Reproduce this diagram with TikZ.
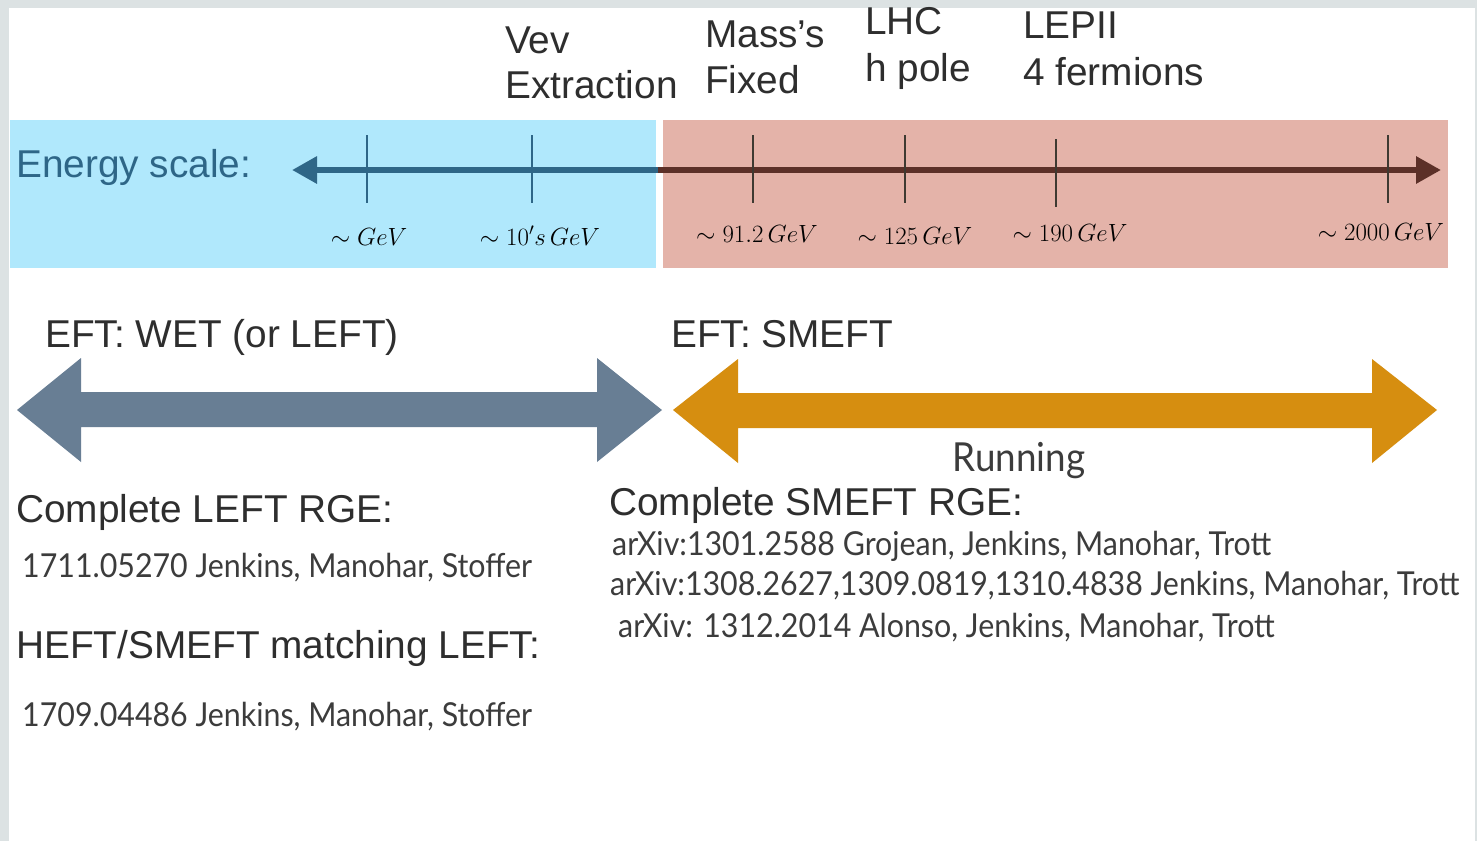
\documentclass[tikz,border=0pt]{standalone}
\usepackage{graphicx}
\usepackage{fontspec}
\setmainfont{Liberation Sans}
\newfontfamily\gillfont{Lato}
\usetikzlibrary{arrows.meta}

\definecolor{slidegray}{HTML}{DCE2E3}
\definecolor{lowbox}{HTML}{B0E8FC}
\definecolor{highbox}{HTML}{E4B3A9}
\definecolor{axisblue}{HTML}{2E6687}
\definecolor{axisbrown}{HTML}{5C3028}
\definecolor{tickbrown}{HTML}{3E3A32}
\definecolor{wetarrow}{HTML}{687E94}
\definecolor{smeftarrow}{HTML}{D68E10}
\definecolor{inkgray}{HTML}{2E2E2E}
\definecolor{refgray}{HTML}{3C3C3C}

% narrow the Lato lines so they take the width of the slide's font
\newcommand{\narrowref}[1]{\scalebox{0.92}[1]{#1}}

\tikzset{
  hdr/.style={font=\fontsize{38.8}{44}\selectfont, text=inkgray, anchor=base west, inner sep=0},
  refs/.style={font=\gillfont\fontsize{33}{38}\selectfont, text=refgray, anchor=base west, inner sep=0},
  gevlbl/.style={font=\fontsize{25}{30}\selectfont, text=black, anchor=base, inner sep=0},
}

\begin{document}
\begin{tikzpicture}[x=1pt,y=1pt,yscale=-1]
\useasboundingbox (0,0) rectangle (1477,841);

%Slide background
\fill[slidegray] (0,0) rectangle (1477,841);
\fill[white] (9,8) rectangle (1475,841);

%Shape: Rectangle [low energy]
\fill[lowbox] (10,120) rectangle (656,268);
%Shape: Rectangle [high energy]
\fill[highbox] (663,120) rectangle (1448,268);

%Straight Lines [energy axis]
\draw[axisblue, line width=6pt, -{Triangle[length=25pt,width=26pt]}] (660,170) -- (292,170);
\draw[axisbrown, line width=6pt, -{Triangle[length=25pt,width=26pt]}] (658,170) -- (1441,170);

%Straight Lines [ticks]
\foreach \x in {367,532}
  \draw[axisblue, line width=2.5pt] (\x,135) -- (\x,203);
\foreach \x/\ya/\yb in {753/135/203,905/135/203,1056/139/207,1388/135/203}
  \draw[tickbrown, line width=2.5pt] (\x,\ya) -- (\x,\yb);

% Text Node
\node[hdr, text=axisblue] (scale) at (16,177) {Energy scale:};
% Text Node
\node[gevlbl] (gev) at (369,245) {$\sim GeV$};
\node[gevlbl] (tens) at (540,245) {$\sim 10's\,GeV$};
\node[gevlbl] (zmass) at (757,242) {$\sim 91.2\,GeV$};
\node[gevlbl] (hmass) at (915,244) {$\sim 125\,GeV$};
\node[gevlbl] (lepe) at (1070,241) {$\sim 190\,GeV$};
\node[gevlbl] (tev) at (1381,240) {$\sim 2000\,GeV$};

% Text Node
\node[hdr] (vevA) at (505,53) {Vev};
\node[hdr] (vevB) at (505,98) {Extraction};
\node[hdr] (massA) at (705,47) {Mass’s};
\node[hdr] (massB) at (705,93) {Fixed};
\node[hdr] (lhcA) at (865,34) {LHC};
\node[hdr] (lhcB) at (865,81) {h pole};
\node[hdr] (lepA) at (1023,38) {LEPII};
\node[hdr] (lepB) at (1023,85) {4 fermions};

% Text Node
\node[hdr] (wet) at (45,347) {EFT: WET (or LEFT)};
\node[hdr] (smeft) at (671,347) {EFT: SMEFT};

%Shape: Double Arrow [WET]
\fill[wetarrow] (17,410) -- (81,358) -- (81,392) -- (597,392) -- (597,358) -- (662,410)
  -- (597,462) -- (597,427) -- (81,427) -- (81,462) -- cycle;
%Shape: Double Arrow [SMEFT]
\fill[smeftarrow] (673,410) -- (738,359) -- (738,393) -- (1372,393) -- (1372,359) -- (1437,410)
  -- (1372,463) -- (1372,428) -- (738,428) -- (738,463) -- cycle;

% Text Node
\node[refs, font=\gillfont\fontsize{40}{44}\selectfont, anchor=base] (run) at (1019,471) {\narrowref{Running}};

% Text Node
\node[hdr] (leftrge) at (16,522) {Complete LEFT RGE:};
\node[refs] (leftref) at (22,577) {\narrowref{1711.05270 Jenkins, Manohar, Stoffer}};
\node[hdr] (heft) at (16,658) {HEFT/SMEFT matching LEFT:};
\node[refs] (heftref) at (22,726) {\narrowref{1709.04486 Jenkins, Manohar, Stoffer}};

% Text Node
\node[hdr] (smeftrge) at (609,515) {Complete SMEFT RGE:};
\node[refs] (refA) at (612,555) {\narrowref{arXiv:1301.2588 Grojean, Jenkins, Manohar, Trott}};
\node[refs] (refB) at (610,595) {\narrowref{arXiv:1308.2627,1309.0819,1310.4838 Jenkins, Manohar, Trott}};
\node[refs] (refC) at (618,637) {\narrowref{arXiv: 1312.2014 Alonso, Jenkins, Manohar, Trott}};

\end{tikzpicture}
\end{document}
